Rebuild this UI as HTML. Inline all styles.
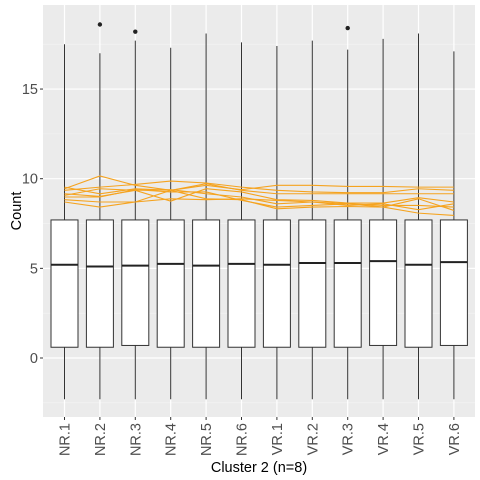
<!DOCTYPE html>
<html><head><meta charset="utf-8"><style>
body{margin:0;background:#fff;}
svg{display:block;font-family:"Liberation Sans",sans-serif;}
</style></head><body>
<svg id="chart" width="480" height="480"></svg>
<script>
const categories=["NR.1","NR.2","NR.3","NR.4","NR.5","NR.6","VR.1","VR.2","VR.3","VR.4","VR.5","VR.6"];
const whiskerLow=[-2.3,-2.3,-2.3,-2.3,-2.3,-2.3,-2.3,-2.3,-2.3,-2.3,-2.3,-2.3];
const q1=[0.6,0.6,0.7,0.6,0.6,0.6,0.6,0.6,0.6,0.7,0.6,0.7];
const medians=[5.2,5.1,5.15,5.25,5.15,5.25,5.2,5.3,5.3,5.4,5.2,5.35];
const q3=[7.7,7.7,7.7,7.7,7.7,7.7,7.7,7.7,7.7,7.7,7.7,7.7];
const whiskerHigh=[17.5,17.0,17.7,17.3,18.1,17.6,17.4,17.7,17.2,17.8,18.1,17.1];
const outlierCat=[1,2,8];
const outlierVal=[18.6,18.2,18.4];
const lineA=[9.44,10.15,9.63,9.35,9.63,9.39,9.63,9.63,9.57,9.57,9.53,9.53];
const lineB=[9.35,9.53,9.68,9.87,9.76,9.53,9.35,9.26,9.22,9.22,9.44,9.35];
const lineC=[9.53,9.16,9.44,9.35,9.72,9.35,9.16,9.16,9.16,9.16,9.16,9.16];
const lineD=[9.16,9.01,9.35,8.75,9.44,9.26,8.83,8.79,8.64,8.64,8.94,8.70];
const lineE=[9.07,9.44,9.35,9.39,9.16,8.98,8.60,8.70,8.60,8.51,8.51,8.42];
const lineF=[8.98,8.98,9.39,9.26,9.26,8.79,8.42,8.51,8.60,8.42,8.88,8.23];
const lineG=[8.83,8.70,8.70,9.35,8.88,8.83,8.32,8.42,8.45,8.42,8.08,7.95];
const lineH=[8.70,8.42,8.70,8.88,8.83,8.88,8.79,8.70,8.51,8.60,8.27,8.60];
const yTicks=[0,5,10,15];
const yMinor=[-2.5,2.5,7.5,12.5,17.5];
const lines=[lineA,lineB,lineC,lineD,lineE,lineF,lineG,lineH];

const NS="http://www.w3.org/2000/svg";
const svg=document.getElementById("chart");
const L=43,R=475,T=5,B=417;
const xS=i=>64.5+35.4*i;
const yS=v=>358-17.93*v;
function mk(tag,attrs,parent){const e=document.createElementNS(NS,tag);for(const k in attrs)e.setAttribute(k,attrs[k]);(parent||svg).appendChild(e);return e;}

const panel=mk("rect",{x:L,y:T,width:R-L,height:B-T,fill:"#ebebeb"});


yMinor.forEach(v=>{const g=mk("line",{x1:L,x2:R,y1:yS(v),y2:yS(v),stroke:"#f5f5f5","stroke-width":0.6});

});
yTicks.forEach(v=>{const g=mk("line",{x1:L,x2:R,y1:yS(v),y2:yS(v),stroke:"#fff","stroke-width":1.2});


const t=mk("line",{x1:L-3,x2:L,y1:yS(v),y2:yS(v),stroke:"#333","stroke-width":1});


const lb=mk("text",{x:L-5,y:yS(v)+5,"text-anchor":"end","font-size":14.5,fill:"#4d4d4d"});lb.textContent=v;

});
categories.forEach((c,i)=>{const g=mk("line",{x1:xS(i),x2:xS(i),y1:T,y2:B,stroke:"#fff","stroke-width":1.2});

});
categories.forEach((c,i)=>{const x=xS(i);
const w=mk("line",{x1:x,x2:x,y1:yS(whiskerHigh[i]),y2:yS(whiskerLow[i]),stroke:"#333","stroke-width":1});


const b=mk("rect",{x:x-13.5,y:yS(q3[i]),width:27,height:yS(q1[i])-yS(q3[i]),fill:"#fff",stroke:"#333","stroke-width":1});


const m=mk("line",{x1:x-13.5,x2:x+13.5,y1:yS(medians[i]),y2:yS(medians[i]),stroke:"#222","stroke-width":2});


const t=mk("line",{x1:x,x2:x,y1:B,y2:B+3,stroke:"#333","stroke-width":1});


const lb=mk("text",{x:0,y:0,"text-anchor":"end","font-size":14.5,fill:"#4d4d4d",transform:`translate(${x+5},${B+6}) rotate(-90)`});lb.textContent=c;

});
outlierCat.forEach((ci,k)=>{const p=mk("circle",{cx:xS(ci),cy:yS(outlierVal[k]),r:2.2,fill:"#222"});

});
lines.forEach((arr,k)=>{const p=mk("polyline",{points:arr.map((v,i)=>xS(i)+","+yS(v)).join(" "),fill:"none",stroke:"#f5a31f","stroke-width":1.1});

});
const yt=mk("text",{x:0,y:0,"text-anchor":"middle","font-size":14.5,fill:"#000",transform:"translate(21,211) rotate(-90)"});yt.textContent="Count";


const xt=mk("text",{x:259,y:472,"text-anchor":"middle","font-size":14.5,fill:"#000"});xt.textContent="Cluster 2 (n=8)";


</script>
</body></html>
